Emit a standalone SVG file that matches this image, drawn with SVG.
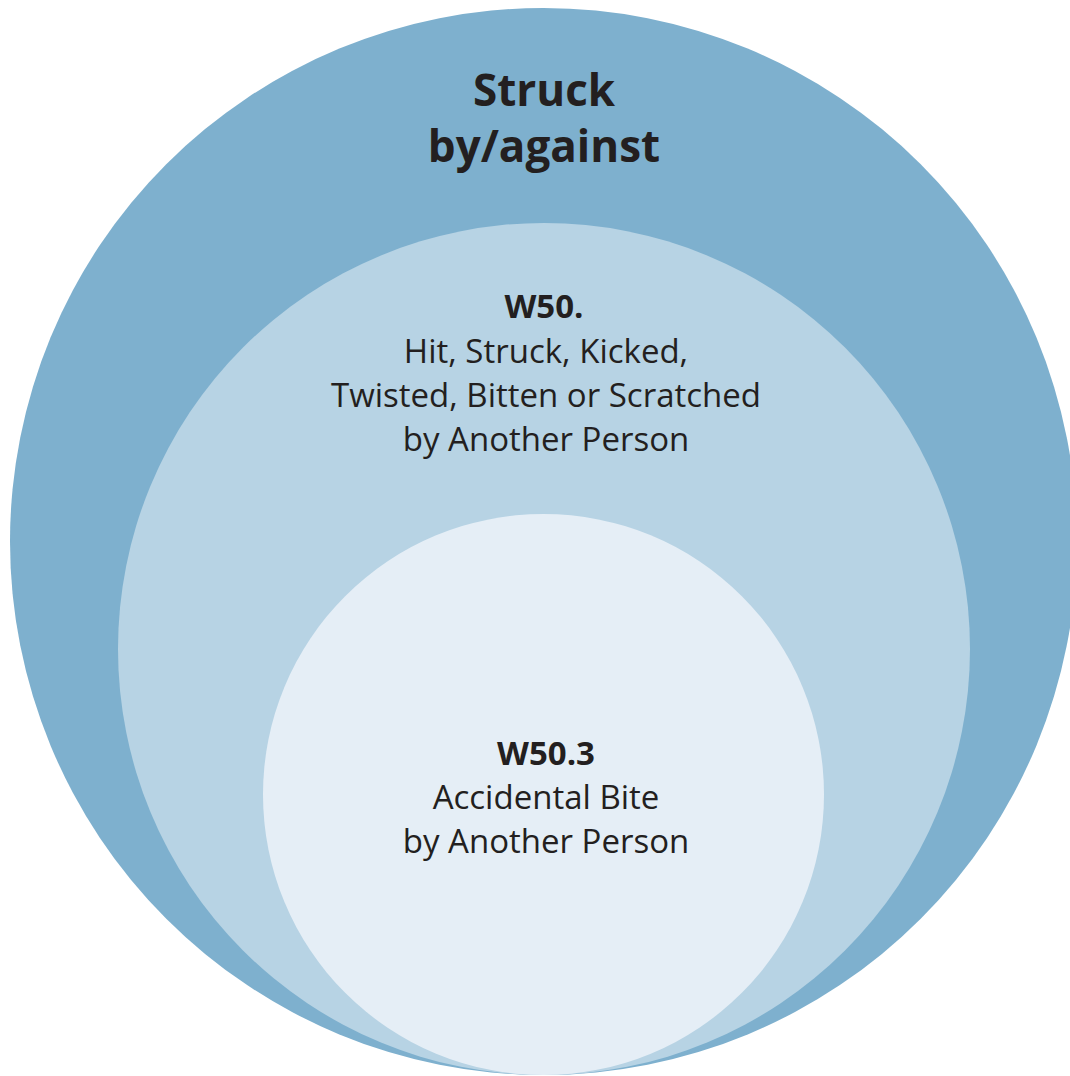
<svg xmlns="http://www.w3.org/2000/svg" width="1070" height="1076" viewBox="0 0 1070 1076">
<style>
.t{font-family:"Open Sans","Noto Sans",sans-serif;fill:#231F20;text-anchor:middle}
.b{font-weight:bold}
</style>
<rect width="1070" height="1076" fill="#ffffff"/>
<g id="outer">
<circle cx="543.5" cy="541.5" r="533.5" fill="#7EB0CE"/>
<text class="t b" x="544" y="106" font-size="44">Struck</text>
<text class="t b" x="544" y="162" font-size="44">by/against</text>
</g>
<g id="middle">
<circle cx="544" cy="649" r="426" fill="#B7D3E4"/>
<text class="t b" x="544" y="318" font-size="33">W50.</text>
<text class="t" x="546" y="363" font-size="33">Hit, Struck, Kicked,</text>
<text class="t" x="546" y="407" font-size="33">Twisted, Bitten or Scratched</text>
<text class="t" x="546" y="451" font-size="33">by Another Person</text>
</g>
<g id="inner">
<circle cx="543.5" cy="794.5" r="280.5" fill="#E5EEF6"/>
<text class="t b" x="546" y="765" font-size="33">W50.3</text>
<text class="t" x="546" y="809" font-size="33">Accidental Bite</text>
<text class="t" x="546" y="853" font-size="33">by Another Person</text>
</g>
<g id="connectors"/>
</svg>
